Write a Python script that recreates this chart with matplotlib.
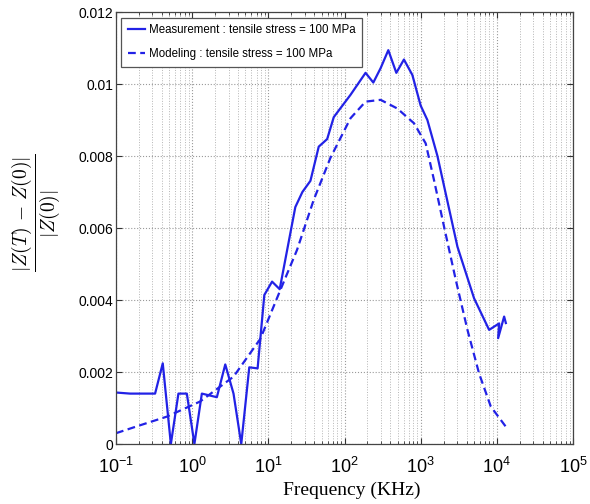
import math
import matplotlib
matplotlib.use("Agg")
import matplotlib.pyplot as plt
from matplotlib.ticker import LogLocator, FixedLocator, FuncFormatter, NullFormatter

plt.rcParams['font.family'] = ['Liberation Sans', 'DejaVu Sans']
plt.rcParams['mathtext.fontset'] = 'custom'
plt.rcParams['mathtext.rm'] = 'Liberation Sans'
plt.rcParams['mathtext.it'] = 'Liberation Sans:italic'
plt.rcParams['mathtext.bf'] = 'Liberation Sans:bold'

# Measurement : tensile stress = 100 MPa
meas_freq = [0.1, 0.153, 0.326, 0.411, 0.525, 0.660, 0.851, 1.07, 1.34, 2.11,
             2.72, 3.49, 4.41, 5.62, 7.23, 8.86, 11.2, 14.1, 22.6, 28.0,
             35.7, 45.9, 59.2, 72.3, 120, 189, 239, 298, 376, 479,
             603, 778, 1000, 1225, 1660, 3040, 5020, 7920, 10720, 10400,
             12470, 13130]
meas_val = [0.00143, 0.00140, 0.00140, 0.00224, 0.0, 0.00140, 0.00140, 0.0, 0.00140, 0.00130,
            0.00221, 0.00140, 0.0, 0.00213, 0.00210, 0.00414, 0.00451, 0.00430, 0.00658, 0.00700,
            0.00731, 0.00826, 0.00847, 0.00908, 0.00970, 0.01031, 0.01004, 0.01044, 0.01094, 0.01031,
            0.01068, 0.01025, 0.00940, 0.00900, 0.00800, 0.00548, 0.00405, 0.00317, 0.00335, 0.00294,
            0.00354, 0.00336]

# Modeling : tensile stress = 100 MPa
model_freq = [0.1, 0.207, 0.465, 1.27, 3.49, 7.85, 14.4, 23.8, 39.4, 65.4,
              120, 189, 298, 493, 817, 1164, 1497, 2026, 2890, 4115,
              5845, 8335, 13130]
model_val = [0.00030, 0.00052, 0.00076, 0.00118, 0.00187, 0.00292, 0.00428, 0.00539, 0.00678, 0.00795,
             0.00905, 0.00951, 0.00956, 0.00932, 0.00891, 0.00835, 0.00733, 0.00604, 0.00456, 0.00317,
             0.00196, 0.00104, 0.00048]

y_ticks = [0, 0.002, 0.004, 0.006, 0.008, 0.010, 0.012]
x_ticks = [1e-1, 1e0, 1e1, 1e2, 1e3, 1e4, 1e5]

color = '#2222e6'

fig = plt.figure(figsize=(5.9, 5.04), dpi=100)
ax = fig.add_axes([116/590, 1-444/504, (573-116)/590, (444-12)/504])

ax.plot(meas_freq, meas_val, '-', color=color, lw=1.6,
        label='Measurement : tensile stress = 100 MPa')
ax.plot(model_freq, model_val, '--', color=color, lw=1.6, dashes=(3.5, 2),
        label='Modeling : tensile stress = 100 MPa')

ax.set_xscale('log')
ax.set_xlim(1e-1, 1e5)
ax.set_ylim(0, 0.012)
ax.xaxis.set_major_locator(FixedLocator(x_ticks))
ax.xaxis.set_minor_locator(LogLocator(base=10, subs=range(2, 10), numticks=20))
ax.xaxis.set_minor_formatter(NullFormatter())
ax.xaxis.set_major_formatter(FuncFormatter(lambda v, p: r'$10^{%d}$' % round(math.log10(v))))
ax.yaxis.set_major_locator(FixedLocator(y_ticks))
ax.yaxis.set_major_formatter(FuncFormatter(lambda v, p: '%g' % round(v, 4)))

ax.grid(True, which='major', axis='both', linestyle=':', color='#9a9a9a', lw=0.8)
ax.grid(True, which='minor', axis='x', linestyle=':', color='#b5b5b5', lw=0.7)
ax.set_axisbelow(True)

ax.tick_params(which='both', direction='in', top=True, right=True, color='#333333')
ax.tick_params(which='major', length=4)
ax.tick_params(which='minor', length=2.5)
ax.tick_params(axis='x', labelsize=13, pad=9)
ax.tick_params(axis='y', labelsize=10, pad=2)
for s in ax.spines.values():
    s.set_color('#444444')
    s.set_linewidth(0.9)

leg = ax.legend(loc='upper left', bbox_to_anchor=(0.012, 0.986), frameon=True, fancybox=False,
                framealpha=1.0,
                prop={'family': ['Liberation Sans'], 'size': 8.3},
                handlelength=1.5, handletextpad=0.3, labelspacing=1.05, borderpad=0.55,
                borderaxespad=0.0)
leg.get_frame().set_edgecolor('#555555')
leg.get_frame().set_linewidth(0.9)

fig.text(352/590, 1-490/504, 'Frequency (KHz)', family='Liberation Serif', fontsize=14,
         ha='center', va='center')
fig.text(36/590, 1-213/504, r'$\dfrac{|Z(T)\,-\,Z(0)|}{|Z(0)|}$', fontsize=14,
         rotation=90, ha='center', va='center', math_fontfamily='cm')

fig.savefig('out.png', dpi=100)
